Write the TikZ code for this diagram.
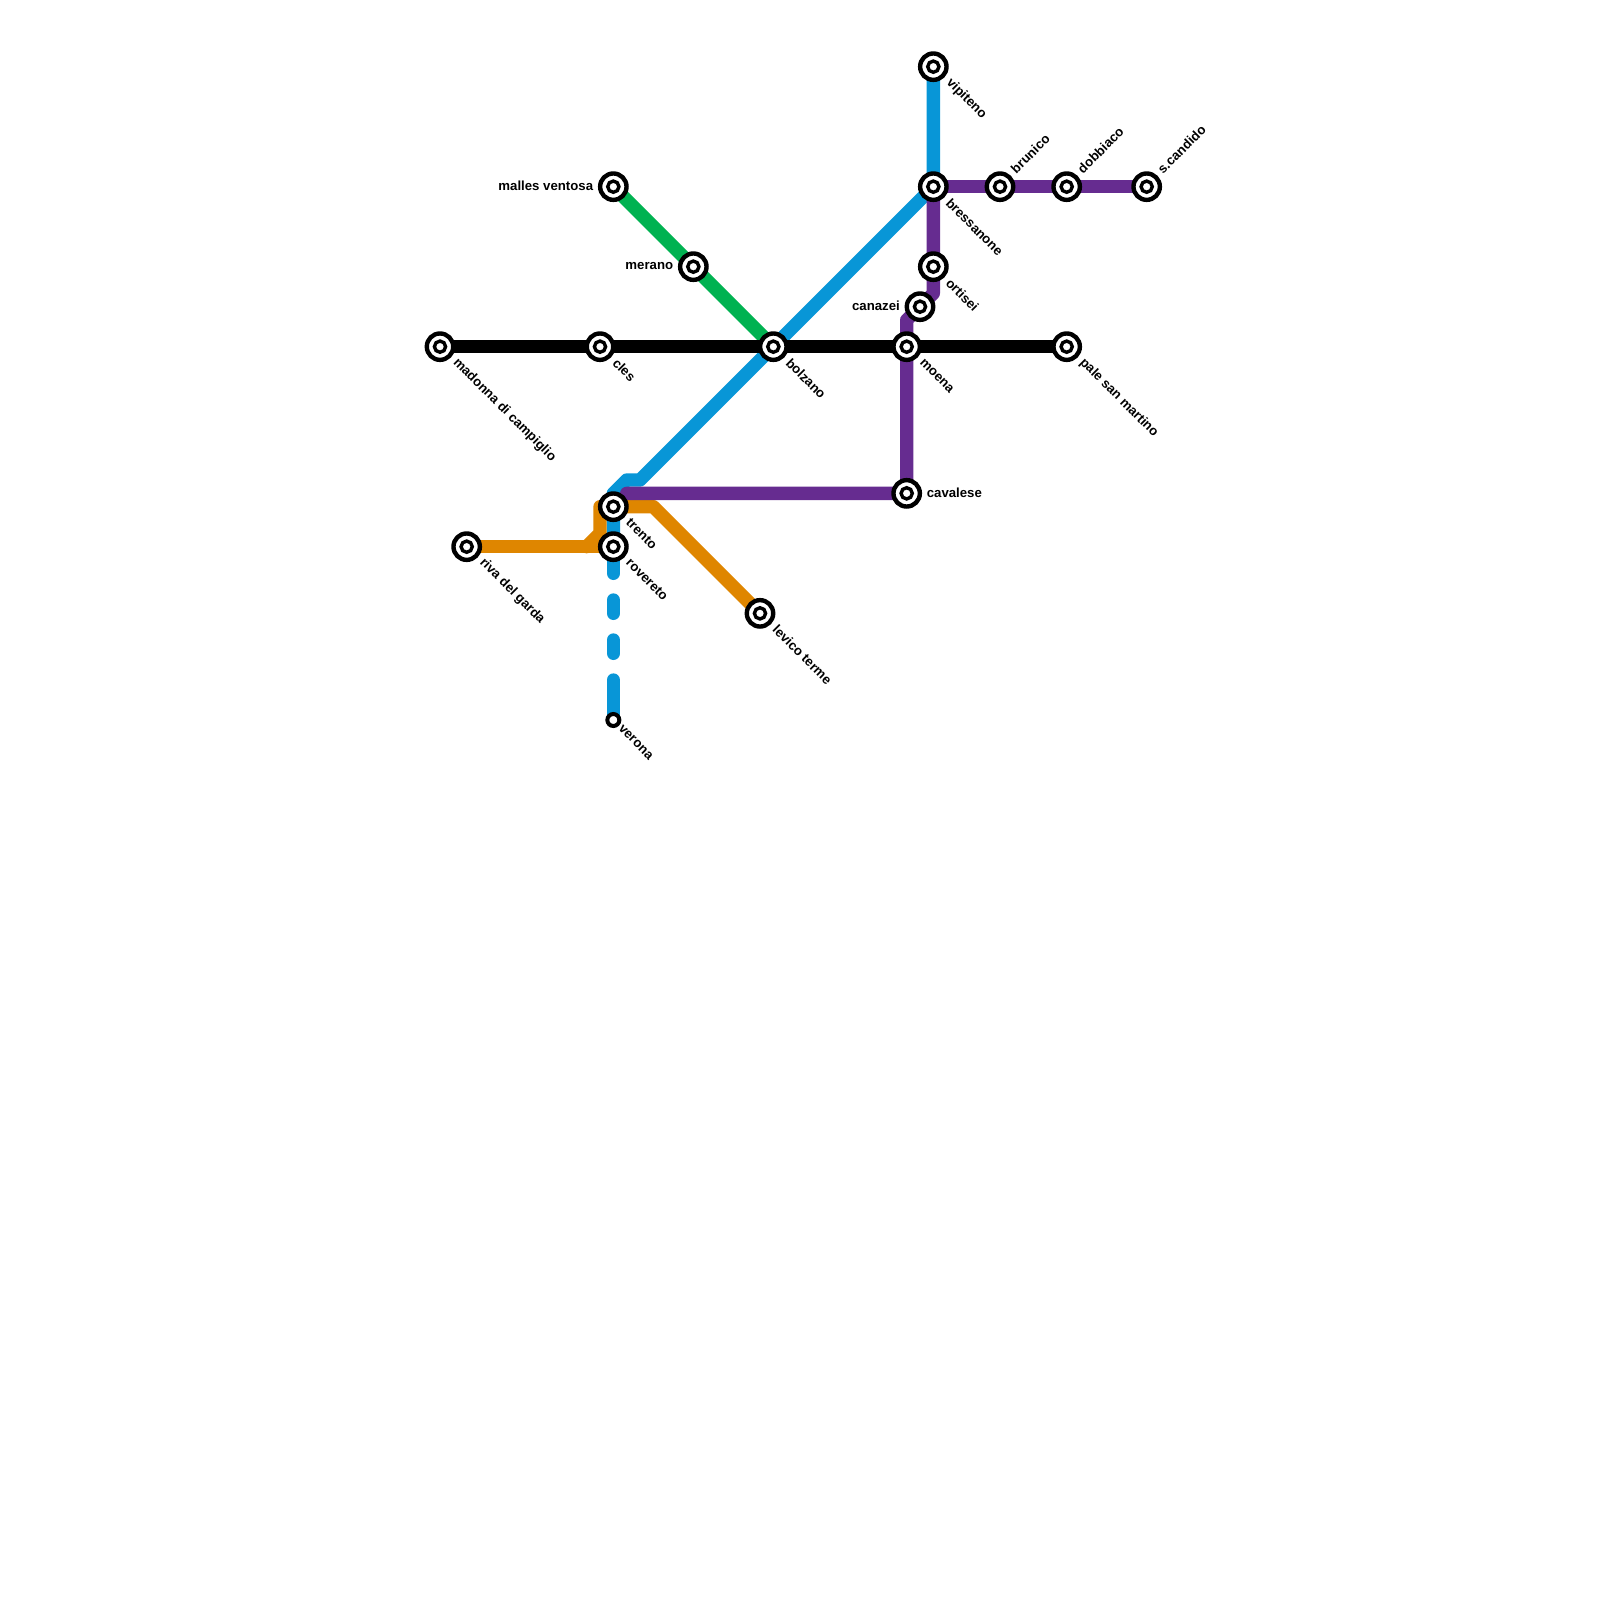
\documentclass[tikz,border=0pt]{standalone}
\usepackage{fontspec}
\setmainfont{Liberation Sans}
\usetikzlibrary{backgrounds}
\definecolor{linegreen}{HTML}{00B251}
\definecolor{lineblue}{HTML}{0896D7}
\definecolor{lineorange}{HTML}{DF8600}
\definecolor{linepurple}{HTML}{662C90}
\tikzset{
	station/.style={circle,draw=black,fill=white,line width=4.4pt,minimum size=26.4pt,inner sep=0pt,
		path picture={\draw[line width=3.4pt] (path picture bounding box.center) circle [radius=5.6pt];}},
	endstation/.style={circle,draw=black,fill=white,line width=4pt,minimum size=12pt,inner sep=0pt},
	metroline/.style={line width=13.33pt,line cap=round,line join=round},
	txt/.style={font=\bfseries\fontsize{13.2}{13.2}\selectfont,inner sep=0pt,text=black},
	downlabel/.style={xshift=15pt,yshift=-14pt,rotate=-45,txt,anchor=west},
	uplabel/.style={xshift=13pt,yshift=15.6pt,rotate=45,txt,anchor=west},
	leftlabel/.style={yshift=1pt,txt,anchor=east,xshift=-20pt},
	rightlabel/.style={yshift=1pt,txt,anchor=west,xshift=20pt}
}
\begin{document}
\begin{tikzpicture}[x=13.3333pt,y=-13.3333pt]

	\useasboundingbox (0,0) rectangle (120,120);

	\node [station] (madonna) at (33,26) {};
	\node [station] (cles) at (45,26) {};
	\node [station] (bolzano) at (58,26) {};
	\node [station] (moena) at (68,26) {};
	\node [station] (pale) at (80,26) {};
	\node [station] (vipiteno) at (70,5) {};
	\node [station] (bressanone) at (70,14) {};
	\node [station] (brunico) at (75,14) {};
	\node [station] (dobbiaco) at (80,14) {};
	\node [station] (candido) at (86,14) {};
	\node [station] (ortisei) at (70,20) {};
	\node [station] (canazei) at (69,23) {};
	\node [station] (malles) at (46,14) {};
	\node [station] (merano) at (52,20) {};
	\node [station] (cavalese) at (68,37) {};
	\node [station] (trento) at (46,38) {};
	\node [station] (rovereto) at (46,41) {};
	\node [station] (riva) at (35,41) {};
	\node [station] (levico) at (57,46) {};
	\node [endstation] (verona) at (46,54) {};

	\begin{scope}[on background layer]
		\draw [metroline,lineblue] (vipiteno.center) -- (bressanone.center) -- (bolzano.center) -- (48,36) -- (47,36) -- (46,37) -- (trento.center) -- (rovereto.center);
		\draw [metroline,lineblue,dash pattern=on 26.67pt off 26.67pt on 13.33pt off 26.67pt on 13.33pt off 26.67pt on 40pt off 100pt] (rovereto.center) -- (verona.center);
		\draw [metroline,lineorange] (riva.center) -- (rovereto.center);
		\draw [metroline,lineorange] (44,41) -- (45,40) -- (45,38) -- (trento.center) -- (49,38) -- (levico.center);
		\draw [metroline,linegreen] (malles.center) -- (merano.center) -- (bolzano.center);
		\draw [metroline,linepurple] (bressanone.center) -- (brunico.center) -- (dobbiaco.center) -- (candido.center);
		\draw [metroline,linepurple] (bressanone.center) -- (ortisei.center) -- (70,22) -- (canazei.center) -- (68,24) -- (moena.center) -- (cavalese.center) -- (68,37) -- (47,37);
		\draw [metroline,black] (madonna.center) -- (cles.center) -- (bolzano.center) -- (moena.center) -- (pale.center);
	\end{scope}

	\node [downlabel] (madonnalabel) at (madonna) {madonna di campiglio};
	\node [downlabel] (cleslabel) at (cles) {cles};
	\node [downlabel] (bolzanolabel) at (bolzano) {bolzano};
	\node [downlabel] (moenalabel) at (moena) {moena};
	\node [downlabel] (palelabel) at (pale) {pale san martino};
	\node [downlabel] (vipitenolabel) at (vipiteno) {vipiteno};
	\node [downlabel] (bressanonelabel) at (bressanone) {bressanone};
	\node [downlabel] (ortiseilabel) at (ortisei) {ortisei};
	\node [downlabel] (trentolabel) at (trento) {trento};
	\node [downlabel] (roveretolabel) at (rovereto) {rovereto};
	\node [downlabel] (rivalabel) at (riva) {riva del garda};
	\node [downlabel] (levicolabel) at (levico) {levico terme};
	\node [xshift=-8pt,yshift=7pt,downlabel] (veronalabel) at (verona) {verona};
	\node [uplabel] (brunicolabel) at (brunico) {brunico};
	\node [uplabel] (dobbiacolabel) at (dobbiaco) {dobbiaco};
	\node [uplabel] (candidolabel) at (candido) {s.candido};
	\node [leftlabel] (malleslabel) at (malles) {malles ventosa};
	\node [leftlabel] (meranolabel) at (merano) {merano};
	\node [leftlabel] (canazeilabel) at (canazei) {canazei};
	\node [rightlabel] (cavaleselabel) at (cavalese) {cavalese};

\end{tikzpicture}
\end{document}
